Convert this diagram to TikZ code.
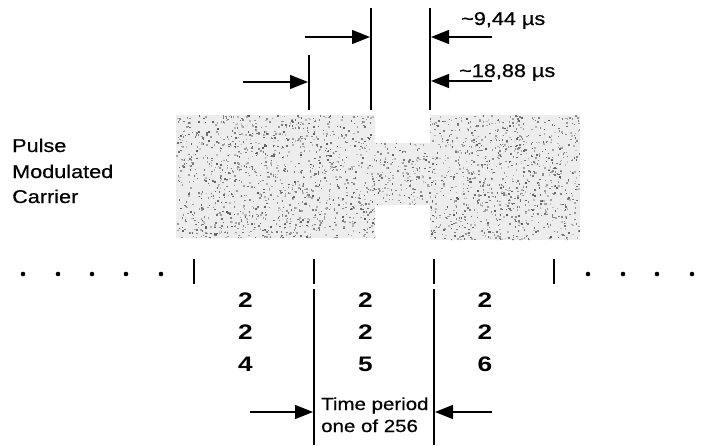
\documentclass[tikz,border=0pt]{standalone}
\usepackage{fontspec}
\setmainfont{Liberation Sans}
\newfontfamily\labfont[FakeStretch=1.17,FakeBold=0.5]{Liberation Sans}
\newfontfamily\numfont[FakeStretch=1.25]{Liberation Sans}
\usetikzlibrary{arrows.meta}
\begin{document}
\begin{tikzpicture}[x=1pt,y=-1pt,
  lab/.style={inner sep=0pt,anchor=base west,font=\labfont\fontsize{18.5}{22}\selectfont},
  tplab/.style={inner sep=0pt,anchor=base west,font=\labfont\fontsize{17.5}{22}\selectfont},
  num/.style={inner sep=0pt,font=\numfont\bfseries\fontsize{21}{24}\selectfont},
  vline/.style={line width=2pt},
  longline/.style={line width=1.6pt},
  tickmark/.style={line width=2.4pt},
  arr/.style={line width=1.4pt,-{Triangle[length=18pt,width=14pt]}},
  dotmark/.style={fill=black},
  noise/.style={fill=black!7}]
\useasboundingbox (0,0) rectangle (723,445);

% pulse modulated carrier block (speckled grey)
\begin{scope}
  \path[clip] (176,115) -- (375,115) -- (375,143) -- (430,143) -- (430,115)
     -- (580,115) -- (580,240) -- (430,240) -- (430,205) -- (375,205)
     -- (375,238) -- (176,238) -- cycle;
  \fill[noise] (170,110) rectangle (585,245);
  \pgfmathsetseed{4711}
  \foreach \i in {1,...,2600}{
    \pgfmathsetmacro\xx{176+404*rnd}
    \pgfmathsetmacro\yy{115+125*rnd}
    \pgfmathtruncatemacro\dk{25+40*rnd}
    \fill[black!\dk] (\xx,\yy) rectangle ++(1.5,1.5);
  }
\end{scope}

% left label
\node[lab] (pulse) at (12,152) {Pulse};
\node[lab] (modu) at (12,178) {Modulated};
\node[lab] (carr) at (12,203) {Carrier};

% top timing marks
\coordinate (v1t) at (309,55);  \coordinate (v1b) at (309,110);
\coordinate (v2t) at (371,8);   \coordinate (v2b) at (371,110);
\coordinate (v3t) at (430,8);   \coordinate (v3b) at (430,110);
\draw[vline] (v1t) -- (v1b);
\draw[vline] (v2t) -- (v2b);
\draw[vline] (v3t) -- (v3b);

\coordinate (a1s) at (243,82);  \coordinate (a1e) at (308,82);
\coordinate (a2s) at (305,37);  \coordinate (a2e) at (370,37);
\coordinate (a3s) at (492,37);  \coordinate (a3e) at (431,37);
\coordinate (a4s) at (492,81);  \coordinate (a4e) at (431,81);
\draw[arr] (a1s) -- (a1e);
\draw[arr] (a2s) -- (a2e);
\draw[arr] (a3s) -- (a3e);
\draw[arr] (a4s) -- (a4e);

\node[lab] (t944) at (461,25) {\textasciitilde 9,44 µs};
\node[lab] (t1888) at (459,77) {\textasciitilde 18,88 µs};

% time axis dots
\foreach \x [count=\k] in {23,58,92,126,161,588,623,657,692,726}{
  \fill[dotmark] (\x,274) circle (2.3pt) coordinate (dot\k);
}

% ticks
\foreach \x [count=\k] in {194,314,434,554}{
  \coordinate (tk\k t) at (\x,259);
  \coordinate (tk\k b) at (\x,284);
  \draw[tickmark] (tk\k t) -- (tk\k b);
}

% long boundary lines of the time period
\coordinate (l1t) at (314,289); \coordinate (l1b) at (314,445);
\coordinate (l2t) at (434,289); \coordinate (l2b) at (434,445);
\draw[longline] (l1t) -- (l1b);
\draw[longline] (l2t) -- (l2b);

% slot numbers
\node[num] (n11) at (245.5,300) {2};
\node[num] (n12) at (245.5,332) {2};
\node[num] (n13) at (245.5,364) {4};
\node[num] (n21) at (365.5,300) {2};
\node[num] (n22) at (365.5,332) {2};
\node[num] (n23) at (365.5,364) {5};
\node[num] (n31) at (485,300) {2};
\node[num] (n32) at (485,332) {2};
\node[num] (n33) at (485,364) {6};

% time period label and arrows
\node[tplab] (tp1) at (321,410) {Time period};
\node[tplab] (tp2) at (321,432) {one of 256};
\coordinate (b1s) at (250,412); \coordinate (b1e) at (313,412);
\coordinate (b2s) at (492,412); \coordinate (b2e) at (435,412);
\draw[arr] (b1s) -- (b1e);
\draw[arr] (b2s) -- (b2e);
\end{tikzpicture}
\end{document}
